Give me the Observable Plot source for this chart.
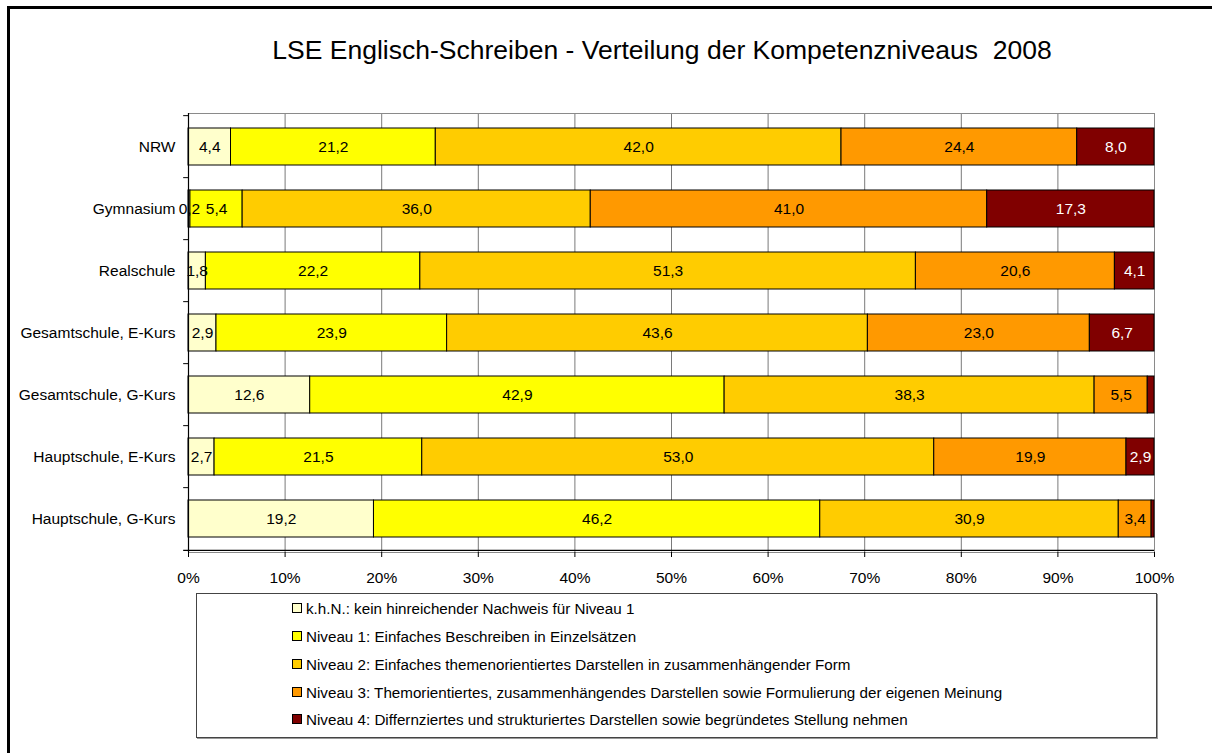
<!DOCTYPE html>
<html>
<head>
<meta charset="utf-8">
<script src="https://cdn.jsdelivr.net/npm/d3@7"></script>
<script src="https://cdn.jsdelivr.net/npm/@observablehq/plot@0.6"></script>
<style>
  body { margin: 0; overflow: hidden; background: #fff; font-family: "Liberation Sans", Arial, sans-serif; }
  #wrap { position: relative; width: 1212px; height: 753px; overflow: hidden; background: #fff; }
  #frame { position: absolute; left: 7px; top: 6px; width: 1300px; height: 900px; border-left: 3px solid #000; border-top: 3px solid #000; }
  #title { position: absolute; left: 0; width: 1324px; top: 35px; text-align: center; font-size: 26.5px; color: #000; white-space: pre; }
  #chart { position: absolute; left: 0; top: 90px; }
  #legend { position: absolute; left: 196px; top: 593px; width: 959px; height: 143px; border: 1px solid #444; box-shadow: 1px 1px 0 #999; }
  .item { position: absolute; left: 95px; height: 18px; display: flex; align-items: center; font-size: 15.2px; color: #000; white-space: nowrap; }
  .sw { width: 8px; height: 8px; border: 1px solid #000; margin-right: 4px; }
</style>
</head>
<body>
<div id="wrap">
  <div id="frame"></div>
  <div id="title"></div>
  <div id="chart"></div>
  <div id="legend"></div>
</div>
<script>
const titleText = "LSE Englisch-Schreiben - Verteilung der Kompetenzniveaus  2008";
const schools = ["NRW", "Gymnasium", "Realschule", "Gesamtschule, E-Kurs", "Gesamtschule, G-Kurs", "Hauptschule, E-Kurs", "Hauptschule, G-Kurs"];
const levels = ["k.h.N.", "Niveau 1", "Niveau 2", "Niveau 3", "Niveau 4"];
const legendLabels = [
  "k.h.N.: kein hinreichender Nachweis für Niveau 1",
  "Niveau 1: Einfaches Beschreiben in Einzelsätzen",
  "Niveau 2: Einfaches themenorientiertes Darstellen in zusammenhängender Form",
  "Niveau 3: Themorientiertes, zusammenhängendes Darstellen sowie Formulierung der eigenen Meinung",
  "Niveau 4: Differnziertes und strukturiertes Darstellen sowie begründetes Stellung nehmen"
];
const khn     = [4.4, 0.2, 1.8, 2.9, 12.6, 2.7, 19.2];
const niveau1 = [21.2, 5.4, 22.2, 23.9, 42.9, 21.5, 46.2];
const niveau2 = [42.0, 36.0, 51.3, 43.6, 38.3, 53.0, 30.9];
const niveau3 = [24.4, 41.0, 20.6, 23.0, 5.5, 19.9, 3.4];
const niveau4 = [8.0, 17.3, 4.1, 6.7, 0.7, 2.9, 0.3];
const colors = ["#FFFFCC", "#FFFF00", "#FFCC00", "#FF9900", "#800000"];
const xTicks = [0, 0.1, 0.2, 0.3, 0.4, 0.5, 0.6, 0.7, 0.8, 0.9, 1.0];
const unlabeled = [["Gesamtschule, G-Kurs", "Niveau 4"], ["Hauptschule, G-Kurs", "Niveau 4"]];

document.getElementById("title").textContent = titleText;

const series = [khn, niveau1, niveau2, niveau3, niveau4];
const data = [];
schools.forEach((s, i) => {
  levels.forEach((lv, j) => {
    data.push({school: s, level: lv, value: series[j][i]});
  });
});

const de = d3.formatLocale({decimal: ",", thousands: ".", grouping: [3], currency: ["", " €"]});
const fmt = de.format(".1f");
const isHidden = d => unlabeled.some(([s, l]) => s === d.school && l === d.level);

const marginTop = 23, marginBottom = 35, plotH = 439;
const step = plotH / schools.length;
const lastSchool = schools[schools.length - 1];

const chart = Plot.plot({
  width: 1212,
  height: marginTop + plotH + marginBottom,
  marginLeft: 188,
  marginRight: 58,
  marginTop,
  marginBottom,
  style: {fontFamily: "'Liberation Sans', Arial, sans-serif", fontSize: "15.5px", color: "#000", background: "transparent", overflow: "visible"},
  x: {domain: [0, 1], axis: null, label: null},
  y: {domain: schools, paddingInner: 0.41, paddingOuter: 0.205, axis: null, label: null},
  color: {domain: levels, range: colors},
  marks: [
    Plot.ruleX(xTicks.slice(1), {stroke: "#7a7a7a", strokeWidth: 1}),
    Plot.frame({stroke: "#8a8a8a"}),
    Plot.barX(data, Plot.stackX({offset: "normalize", x: "value", y: "school", fill: "level", stroke: "#000", strokeWidth: 1})),
    Plot.text(data, Plot.stackX({offset: "normalize", x: "value", y: "school", z: "level",
      text: d => isHidden(d) ? "" : fmt(d.value),
      fill: d => d.level === "Niveau 4" ? "#fff" : "#000",
      fontSize: 15.5})),
    Plot.ruleX([0], {stroke: "#000", strokeWidth: 1.2}),
    Plot.ruleY(schools, {y: d => d, dy: -step / 2, x1: -0.005, x2: 0, stroke: "#000"}),
    Plot.ruleY([lastSchool], {y: d => d, dy: step / 2, x1: -0.005, x2: 1, stroke: "#000", strokeWidth: 1.2}),
    Plot.axisY({tickSize: 0, tickPadding: 13, fontSize: 15.5, label: null}),
    Plot.axisX({ticks: xTicks, tickSize: 5, tickPadding: 14, tickFormat: d3.format(".0%"), fontSize: 15.5, stroke: "#000", label: null})
  ]
});
document.getElementById("chart").appendChild(chart);

const legend = document.getElementById("legend");
const rowTops = [599, 627, 655, 683, 710];
legendLabels.forEach((lab, i) => {
  const item = document.createElement("div");
  item.className = "item";
  item.style.top = (rowTops[i] - 594) + "px";
  const sw = document.createElement("div");
  sw.className = "sw";
  sw.style.background = colors[i];
  const t = document.createElement("span");
  t.textContent = lab;
  item.appendChild(sw);
  item.appendChild(t);
  legend.appendChild(item);
});
</script>
</body>
</html>
